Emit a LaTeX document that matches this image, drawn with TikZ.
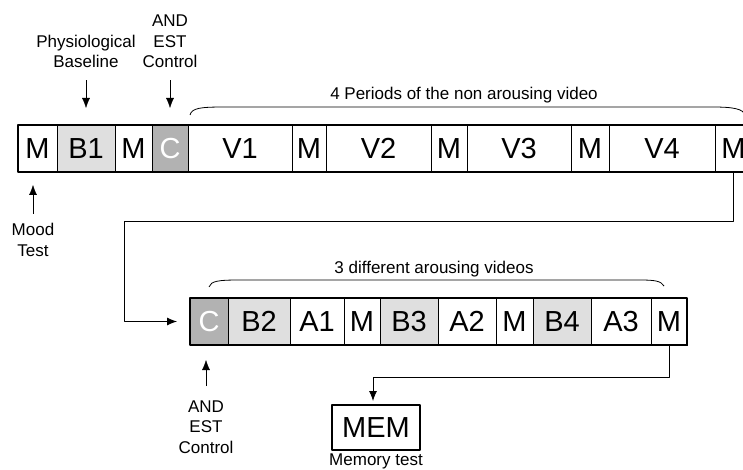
\documentclass[tikz,border=0pt]{standalone}
\usepackage{fontspec}
\setmainfont{Liberation Sans}
\usetikzlibrary{positioning,arrows.meta}
\tikzset{
	cell/.style={draw, line width=0.8pt, minimum height=47pt, inner sep=0pt, outer sep=0pt, font=\fontsize{29}{29}\selectfont},
	grycell/.style={cell, fill=gray!25},
	ctlcell/.style={cell, fill=gray!60, text=white},
	lbl/.style={align=center, inner sep=0pt, font=\fontsize{17}{20.5}\selectfont},
	row/.style={line width=1.6pt},
	brc/.style={line width=0.8pt},
}
\begin{document}
\begin{tikzpicture}[x=1pt, y=-1pt, >={Latex[length=10pt,width=8pt]}, line join=round]
	\useasboundingbox (0,0) rectangle (743,470);
	\clip (0,0) rectangle (743,470);
	% first row
	\node[cell, minimum width=39pt, anchor=west] (m1) at (18,148.5) {M};
	\node[grycell, minimum width=58pt, right=0pt of m1] (b1) {B1};
	\node[cell, minimum width=37pt, right=0pt of b1] (m2) {M};
	\node[ctlcell, minimum width=36pt, right=0pt of m2] (c1) {C};
	\node[cell, minimum width=104pt, right=0pt of c1] (v1) {V1};
	\node[cell, minimum width=34pt, right=0pt of v1] (m3) {M};
	\node[cell, minimum width=105pt, right=0pt of m3] (v2) {V2};
	\node[cell, minimum width=36pt, right=0pt of v2] (m4) {M};
	\node[cell, minimum width=104pt, right=0pt of m4] (v3) {V3};
	\node[cell, minimum width=38pt, right=0pt of v3] (m5) {M};
	\node[cell, minimum width=106pt, right=0pt of m5] (v4) {V4};
	\node[cell, minimum width=37pt, right=0pt of v4] (m6) {M};
	\draw[row] (m1.north west) rectangle (m6.south east);
	% second row
	\node[ctlcell, minimum width=38pt, anchor=west] (c2) at (190,321.5) {C};
	\node[grycell, minimum width=62pt, right=0pt of c2] (b2) {B2};
	\node[cell, minimum width=54pt, right=0pt of b2] (a1) {A1};
	\node[cell, minimum width=36pt, right=0pt of a1] (m7) {M};
	\node[grycell, minimum width=58pt, right=0pt of m7] (b3) {B3};
	\node[cell, minimum width=58pt, right=0pt of b3] (a2) {A2};
	\node[cell, minimum width=37pt, right=0pt of a2] (m8) {M};
	\node[grycell, minimum width=58pt, right=0pt of m8] (b4) {B4};
	\node[cell, minimum width=60pt, right=0pt of b4] (a3) {A3};
	\node[cell, minimum width=36pt, right=0pt of a3] (m9) {M};
	\draw[row] (c2.north west) rectangle (m9.south east);
	\node[cell, line width=1.2pt, minimum width=88pt, minimum height=45pt] (mem) at (376,427.5) {MEM};
	% labels (base = last line)
	\node[lbl, anchor=base] (pbase) at (86,68) {Physiological\\Baseline};
	\node[lbl, anchor=base] (ctla) at (170,68) {AND\\EST\\Control};
	\node[lbl, anchor=base] (mood) at (33,256) {Mood\\Test};
	\node[lbl, anchor=base] (ctlb) at (206,453) {AND\\EST\\Control};
	\node[lbl, anchor=base] (memlbl) at (376,465) {Memory test};
	\node[lbl, anchor=base] (nonarous) at (464,100) {4 Periods of the non arousing video};
	\node[lbl, anchor=base] (arous) at (434,273) {3 different arousing videos};
	% braces
	\draw[brc] (190,115) .. controls (192,108) and (200,107) .. (225,107) -- (712,107) .. controls (735,107) and (742,109) .. (746,115);
	\draw[brc] (209,287) .. controls (211,281) and (218,280) .. (240,280) -- (640,280) .. controls (655,280) and (661,281) .. (664,286);
	% arrows
	\draw[->, thin, shorten <=12pt, shorten >=17pt] (pbase.south) -- (b1.north);
	\draw[->, thin, shorten <=12pt, shorten >=17pt] (ctla.south) -- (c1.north);
	\draw[->, thin, shorten <=9pt, shorten >=13pt] (mood.north) -- (mood.north |- m1.south);
	\draw[->, thin, shorten <=14pt, shorten >=15pt] (ctlb.north) -- (ctlb.north |- c2.south);
	\coordinate (turna) at (124,221);
	\coordinate (turnb) at (373,377);
	\draw[->, line width=0.8pt, shorten >=13pt] (m6.south) |- (turna) |- (c2.west);
	\draw[->, line width=0.8pt, shorten >=4pt] (m9.south) |- (turnb) -- (turnb |- mem.north);
\end{tikzpicture}
\end{document}
